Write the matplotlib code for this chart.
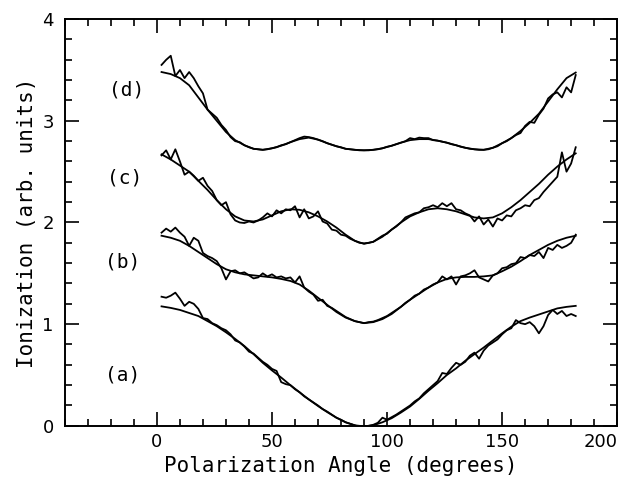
import numpy as np
import matplotlib
matplotlib.use('Agg')
import matplotlib.pyplot as plt
from matplotlib.ticker import MultipleLocator

# angle grids (degrees)
angle_data = np.arange(2, 184, 2)
angle_fit = np.arange(2, 186, 4)

# measured ionization, curves (a)-(d)
data_a = [1.27, 1.26, 1.28, 1.31, 1.25, 1.18, 1.22, 1.20, 1.15, 1.06,
          1.05, 1.01, 0.99, 0.96, 0.94, 0.90, 0.84, 0.82, 0.78, 0.73,
          0.71, 0.67, 0.63, 0.60, 0.56, 0.54, 0.43, 0.41, 0.40, 0.36,
          0.33, 0.29, 0.26, 0.23, 0.20, 0.165, 0.14, 0.11, 0.08, 0.06,
          0.035, 0.02, 0.005, -0.01, -0.005, 0.0, 0.01, 0.03, 0.08, 0.06,
          0.085, 0.11, 0.14, 0.17, 0.20, 0.24, 0.27, 0.32, 0.36, 0.40,
          0.44, 0.52, 0.51, 0.57, 0.62, 0.60, 0.63, 0.69, 0.72, 0.66,
          0.74, 0.79, 0.82, 0.85, 0.90, 0.94, 0.96, 1.04, 1.01, 1.00,
          1.02, 0.98, 0.91, 0.98, 1.09, 1.14, 1.10, 1.13, 1.08, 1.10,
          1.08]
data_b = [1.90, 1.94, 1.91, 1.95, 1.90, 1.86, 1.77, 1.85, 1.82, 1.70,
          1.67, 1.65, 1.62, 1.55, 1.44, 1.52, 1.53, 1.50, 1.51, 1.48,
          1.45, 1.46, 1.50, 1.47, 1.49, 1.46, 1.47, 1.45, 1.46, 1.41,
          1.47, 1.36, 1.32, 1.29, 1.23, 1.24, 1.18, 1.16, 1.13, 1.10,
          1.07, 1.05, 1.03, 1.02, 1.01, 1.02, 1.025, 1.04, 1.06, 1.08,
          1.11, 1.14, 1.17, 1.21, 1.24, 1.28, 1.30, 1.34, 1.36, 1.39,
          1.41, 1.47, 1.44, 1.47, 1.39, 1.47, 1.48, 1.50, 1.53, 1.46,
          1.44, 1.42, 1.48, 1.50, 1.55, 1.56, 1.59, 1.60, 1.66, 1.65,
          1.68, 1.67, 1.71, 1.65, 1.75, 1.73, 1.78, 1.75, 1.77, 1.80,
          1.88]
data_c = [2.66, 2.71, 2.62, 2.72, 2.60, 2.47, 2.50, 2.46, 2.41, 2.44,
          2.36, 2.31, 2.22, 2.17, 2.20, 2.08, 2.02, 2.00, 1.995, 2.01,
          2.00, 2.02, 2.05, 2.09, 2.06, 2.12, 2.09, 2.13, 2.12, 2.16,
          2.05, 2.13, 2.04, 2.06, 2.11, 2.01, 1.99, 1.93, 1.92, 1.88,
          1.87, 1.84, 1.82, 1.80, 1.795, 1.80, 1.81, 1.84, 1.87, 1.89,
          1.93, 1.96, 2.00, 2.05, 2.07, 2.09, 2.10, 2.14, 2.15, 2.17,
          2.15, 2.19, 2.16, 2.19, 2.13, 2.12, 2.09, 2.07, 2.01, 2.06,
          1.98, 2.03, 1.96, 2.04, 2.02, 2.07, 2.06, 2.12, 2.14, 2.17,
          2.16, 2.22, 2.24, 2.30, 2.35, 2.40, 2.45, 2.69, 2.50, 2.58,
          2.74]
data_d = [3.55, 3.60, 3.64, 3.44, 3.50, 3.42, 3.48, 3.42, 3.34, 3.27,
          3.11, 3.07, 3.03, 2.96, 2.91, 2.84, 2.80, 2.79, 2.76, 2.74,
          2.725, 2.72, 2.715, 2.72, 2.73, 2.74, 2.76, 2.77, 2.79, 2.81,
          2.83, 2.845, 2.84, 2.83, 2.815, 2.80, 2.78, 2.765, 2.75, 2.74,
          2.725, 2.72, 2.715, 2.71, 2.71, 2.71, 2.715, 2.72, 2.73, 2.745,
          2.755, 2.77, 2.785, 2.80, 2.83, 2.82, 2.835, 2.83, 2.83, 2.81,
          2.805, 2.795, 2.785, 2.77, 2.76, 2.745, 2.735, 2.725, 2.72, 2.715,
          2.715, 2.72, 2.735, 2.75, 2.78, 2.80, 2.83, 2.86, 2.88, 2.95,
          2.99, 2.98, 3.06, 3.12, 3.22, 3.26, 3.28, 3.23, 3.33, 3.28,
          3.45]

# fitted curves
fit_a = [1.175, 1.16, 1.14, 1.11, 1.08, 1.03, 0.98, 0.92, 0.855, 0.785,
         0.705, 0.62, 0.545, 0.475, 0.40, 0.33, 0.26, 0.195, 0.135, 0.08,
         0.035, 0.005, -0.005, 0.005, 0.035, 0.075, 0.13, 0.19, 0.265, 0.345,
         0.42, 0.50, 0.565, 0.64, 0.705, 0.77, 0.84, 0.91, 0.975, 1.03,
         1.065, 1.095, 1.125, 1.155, 1.17, 1.18]
fit_b = [1.87, 1.85, 1.82, 1.77, 1.71, 1.65, 1.59, 1.54, 1.51, 1.49,
         1.48, 1.47, 1.46, 1.445, 1.425, 1.39, 1.33, 1.26, 1.19, 1.12,
         1.065, 1.03, 1.01, 1.02, 1.05, 1.10, 1.17, 1.24, 1.30, 1.36,
         1.41, 1.445, 1.46, 1.465, 1.465, 1.47, 1.48, 1.52, 1.565, 1.62,
         1.68, 1.73, 1.78, 1.82, 1.85, 1.87]
fit_c = [2.67, 2.62, 2.56, 2.50, 2.41, 2.32, 2.22, 2.13, 2.06, 2.02,
         2.01, 2.03, 2.07, 2.11, 2.13, 2.125, 2.10, 2.06, 2.01, 1.95,
         1.88, 1.82, 1.79, 1.81, 1.86, 1.93, 2.00, 2.06, 2.10, 2.13,
         2.14, 2.13, 2.11, 2.08, 2.05, 2.04, 2.05, 2.09, 2.15, 2.22,
         2.30, 2.38, 2.47, 2.55, 2.62, 2.68]
fit_d = [3.48, 3.46, 3.42, 3.35, 3.23, 3.11, 3.00, 2.89, 2.81, 2.76,
         2.725, 2.715, 2.73, 2.755, 2.79, 2.82, 2.835, 2.815, 2.78, 2.75,
         2.725, 2.715, 2.71, 2.715, 2.73, 2.755, 2.785, 2.81, 2.82, 2.82,
         2.805, 2.785, 2.76, 2.735, 2.72, 2.715, 2.735, 2.78, 2.83, 2.90,
         2.98, 3.07, 3.19, 3.31, 3.42, 3.475]

labels = ['(a)', '(b)', '(c)', '(d)']
label_x = [-15, -15, -14, -13]
label_y = [0.50, 1.61, 2.44, 3.30]

mono = 'DejaVu Sans Mono'

fig = plt.figure(figsize=(6.24, 4.79), dpi=100)
ax = fig.add_axes([0.104, 0.111, 0.885, 0.849])

for data, fit in [(data_a, fit_a), (data_b, fit_b), (data_c, fit_c), (data_d, fit_d)]:
    ax.plot(angle_data, data, color='black', lw=1.3)
    ax.plot(angle_fit, fit, color='black', lw=1.3)

for lab, lx, ly in zip(labels, label_x, label_y):
    ax.text(lx, ly, lab, fontsize=14, family=mono, ha='center', va='center')

ax.set_xlim(-40, 200)
ax.set_ylim(0, 4)
ax.set_xticks([0, 50, 100, 150, 200])
ax.xaxis.set_minor_locator(MultipleLocator(10))
ax.yaxis.set_major_locator(MultipleLocator(1))
ax.yaxis.set_minor_locator(MultipleLocator(0.2))
ax.tick_params(which='both', direction='in', top=True, right=True,
               labelsize=13, width=1.2)
ax.tick_params(which='major', length=10)
ax.tick_params(which='minor', length=5)
ax.tick_params(axis='x', pad=5)
ax.tick_params(axis='y', pad=8)
ax.get_xticklabels()[-1].set_ha('right')
for sp in ax.spines.values():
    sp.set_linewidth(1.4)

ax.set_xlabel('Polarization Angle (degrees)', fontsize=15, family=mono, labelpad=4)
ax.set_ylabel('Ionization (arb. units)', fontsize=15, family=mono, labelpad=4)

fig.savefig('out.png', dpi=100)
